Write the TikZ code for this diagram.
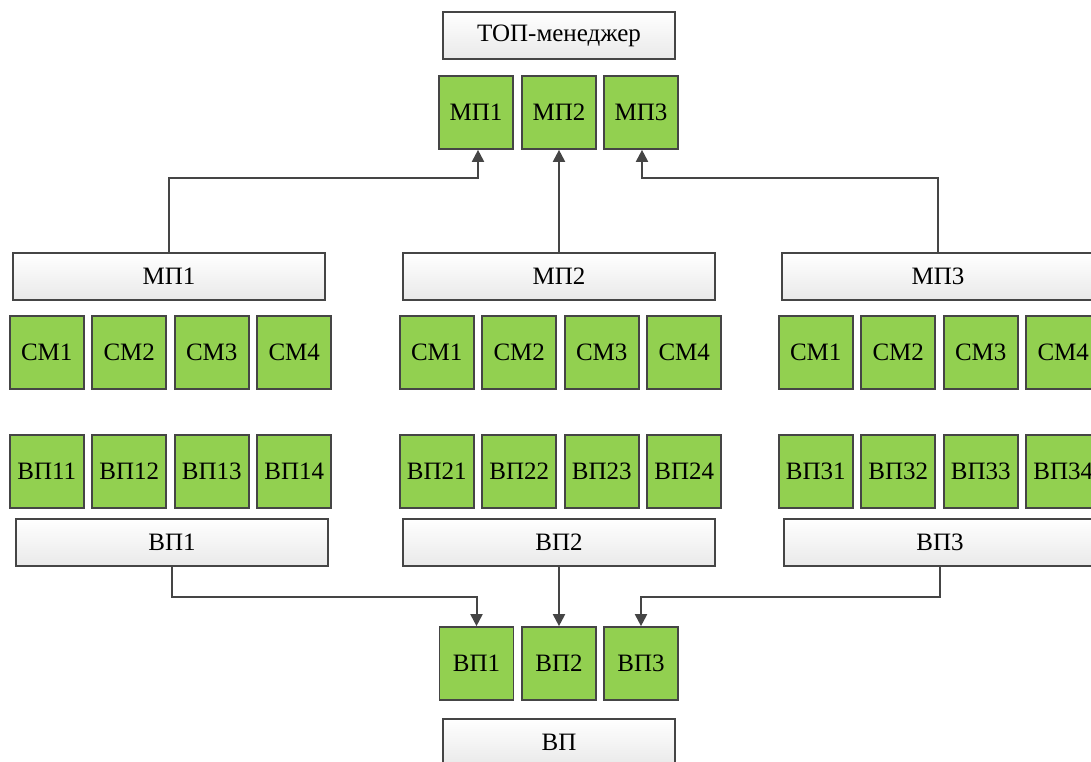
\documentclass[tikz,border=0pt]{standalone}
\usepackage{fontspec}
\setmainfont{Liberation Serif}
\usetikzlibrary{arrows.meta}
\definecolor{edge}{HTML}{454545}
\definecolor{leaf}{HTML}{92D050}
\definecolor{shade}{HTML}{E9E9E9}
\tikzset{
  greenbox/.style={draw=edge, line width=1.7pt, fill=leaf, minimum width=74pt, minimum height=73pt, inner sep=0pt, font=\fontsize{25}{29}\selectfont},
  widebox/.style={draw=edge, line width=1.7pt, top color=white, bottom color=shade, minimum height=47pt, inner sep=0pt, font=\fontsize{25}{29}\selectfont},
  link/.style={draw=edge, line width=2pt, -{Triangle[width=12pt,length=12pt]}}
}
\begin{document}
\begin{tikzpicture}[x=1pt,y=-1pt]
\useasboundingbox (0,0) rectangle (1091,762);
\clip (0,0) rectangle (1091,762);

% top level
\node[widebox, minimum width=232pt] (top) at (559,35.5) {ТОП-менеджер};
\node[greenbox] (tm1) at (476,112.5) {МП1};
\node[greenbox] (tm2) at (559,112.5) {МП2};
\node[greenbox] (tm3) at (641,112.5) {МП3};

% three groups
\foreach \g/\gx/\bx in {1/169/172, 2/559/559, 3/938/940} {
  \node[widebox, minimum width=312pt] (mp\g) at (\gx,276.5) {МП\g};
  \foreach \k/\dx in {1/-123.75, 2/-41.25, 3/41.25, 4/123.75} {
    \node[greenbox] (cm\g\k) at (\gx+1.5+\dx,352.5) {СМ\k};
    \node[greenbox] (vp\g\k) at (\gx+1.5+\dx,471.5) {ВП\g\k};
  }
  \node[widebox, minimum width=312pt] (vb\g) at (\bx,542.5) {ВП\g};
}

% bottom level
\node[greenbox] (bv1) at (476.5,663.5) {ВП1};
\node[greenbox] (bv2) at (559,663.5) {ВП2};
\node[greenbox] (bv3) at (641,663.5) {ВП3};
\node[widebox, minimum width=232pt] (vp) at (559,742.5) {ВП};

% upward links
\draw[link] (mp1.north) -- ++(0,-74) -| ([xshift=2pt]tm1.south);
\draw[link] (mp2.north) -- (tm2.south);
\draw[link] (mp3.north) -- ++(0,-74) -| ([xshift=1pt]tm3.south);

% downward links
\draw[link] (vb1.south) -- ++(0,30) -| (bv1.north);
\draw[link] (vb2.south) -- (bv2.north);
\draw[link] (vb3.south) -- ++(0,30) -| (bv3.north);
\end{tikzpicture}
\end{document}
